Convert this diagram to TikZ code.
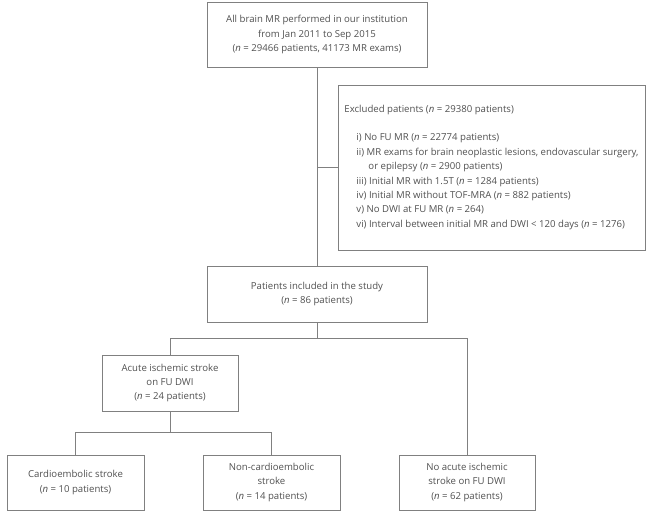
\documentclass[tikz,border=0pt]{standalone}
\usepackage{fontspec}
\setmainfont{Open Sans}
\usepackage{tikz}
\usetikzlibrary{positioning}
\definecolor{boxline}{RGB}{128,128,128}
\definecolor{boxtext}{RGB}{80,80,80}

\begin{document}
\begin{tikzpicture}[
  x=1pt, y=-1pt,
  every node/.style={font=\fontsize{9.6}{14.4}\selectfont, text=boxtext},
  box/.style={rectangle, draw=boxline, line width=0.9pt, align=center, inner sep=3pt},
  conn/.style={draw=boxline, line width=0.9pt}
]
  \useasboundingbox (0,0) rectangle (646,513);

  \node[box, minimum width=220pt, minimum height=65pt] (all) at (317,34.5) {%
    All brain MR performed in our institution\\
    from Jan 2011 to Sep 2015\\
    (\textit{n} = 29466 patients, 41173 MR exams)};

  \node[box, minimum width=307pt, minimum height=165pt, align=left, inner xsep=2pt] (excl) at (491.5,167.5) {%
    Excluded patients (\textit{n} = 29380 patients)\\[14pt]
    \hspace*{12pt}i) No FU MR (\textit{n} = 22774 patients)\\
    \hspace*{12pt}ii) MR exams for brain neoplastic lesions, endovascular surgery,\\
    \hspace*{24pt}or epilepsy (\textit{n} = 2900 patients)\\
    \hspace*{12pt}iii) Initial MR with 1.5T (\textit{n} = 1284 patients)\\
    \hspace*{12pt}iv) Initial MR without TOF-MRA (\textit{n} = 882 patients)\\
    \hspace*{12pt}v) No DWI at FU MR (\textit{n} = 264)\\
    \hspace*{12pt}vi) Interval between initial MR and DWI < 120 days (\textit{n} = 1276)};

  \node[box, minimum width=220pt, minimum height=56pt] (incl) at (317,294) {%
    Patients included in the study\\
    (\textit{n} = 86 patients)};

  \node[box, minimum width=136pt, minimum height=56pt] (acute) at (170,383) {%
    Acute ischemic stroke\\
    on FU DWI\\
    (\textit{n} = 24 patients)};

  \node[box, minimum width=137pt, minimum height=55pt] (cardio) at (75.5,482.5) {%
    Cardioembolic stroke\\
    (\textit{n} = 10 patients)};

  \node[box, minimum width=137pt, minimum height=55pt] (noncardio) at (271.5,482.5) {%
    Non-cardioembolic\\
    stroke\\
    (\textit{n} = 14 patients)};

  \node[box, minimum width=136pt, minimum height=55pt] (noacute) at (467,482.5) {%
    No acute ischemic\\
    stroke on FU DWI\\
    (\textit{n} = 62 patients)};

  \coordinate (split1) at (317,338);
  \coordinate (split2) at (170,432);

  \draw[conn] (all) -- (incl);
  \draw[conn] (all.south |- excl.west) -- (excl.west);
  \draw[conn] (incl.south) |- (acute.north |- split1) -- (acute.north);
  \draw[conn] (incl.south) |- (noacute.north |- split1) -- (noacute.north);
  \draw[conn] (acute.south) |- (cardio.north |- split2) -- (cardio.north);
  \draw[conn] (acute.south) |- (noncardio.north |- split2) -- (noncardio.north);
\end{tikzpicture}
\end{document}
